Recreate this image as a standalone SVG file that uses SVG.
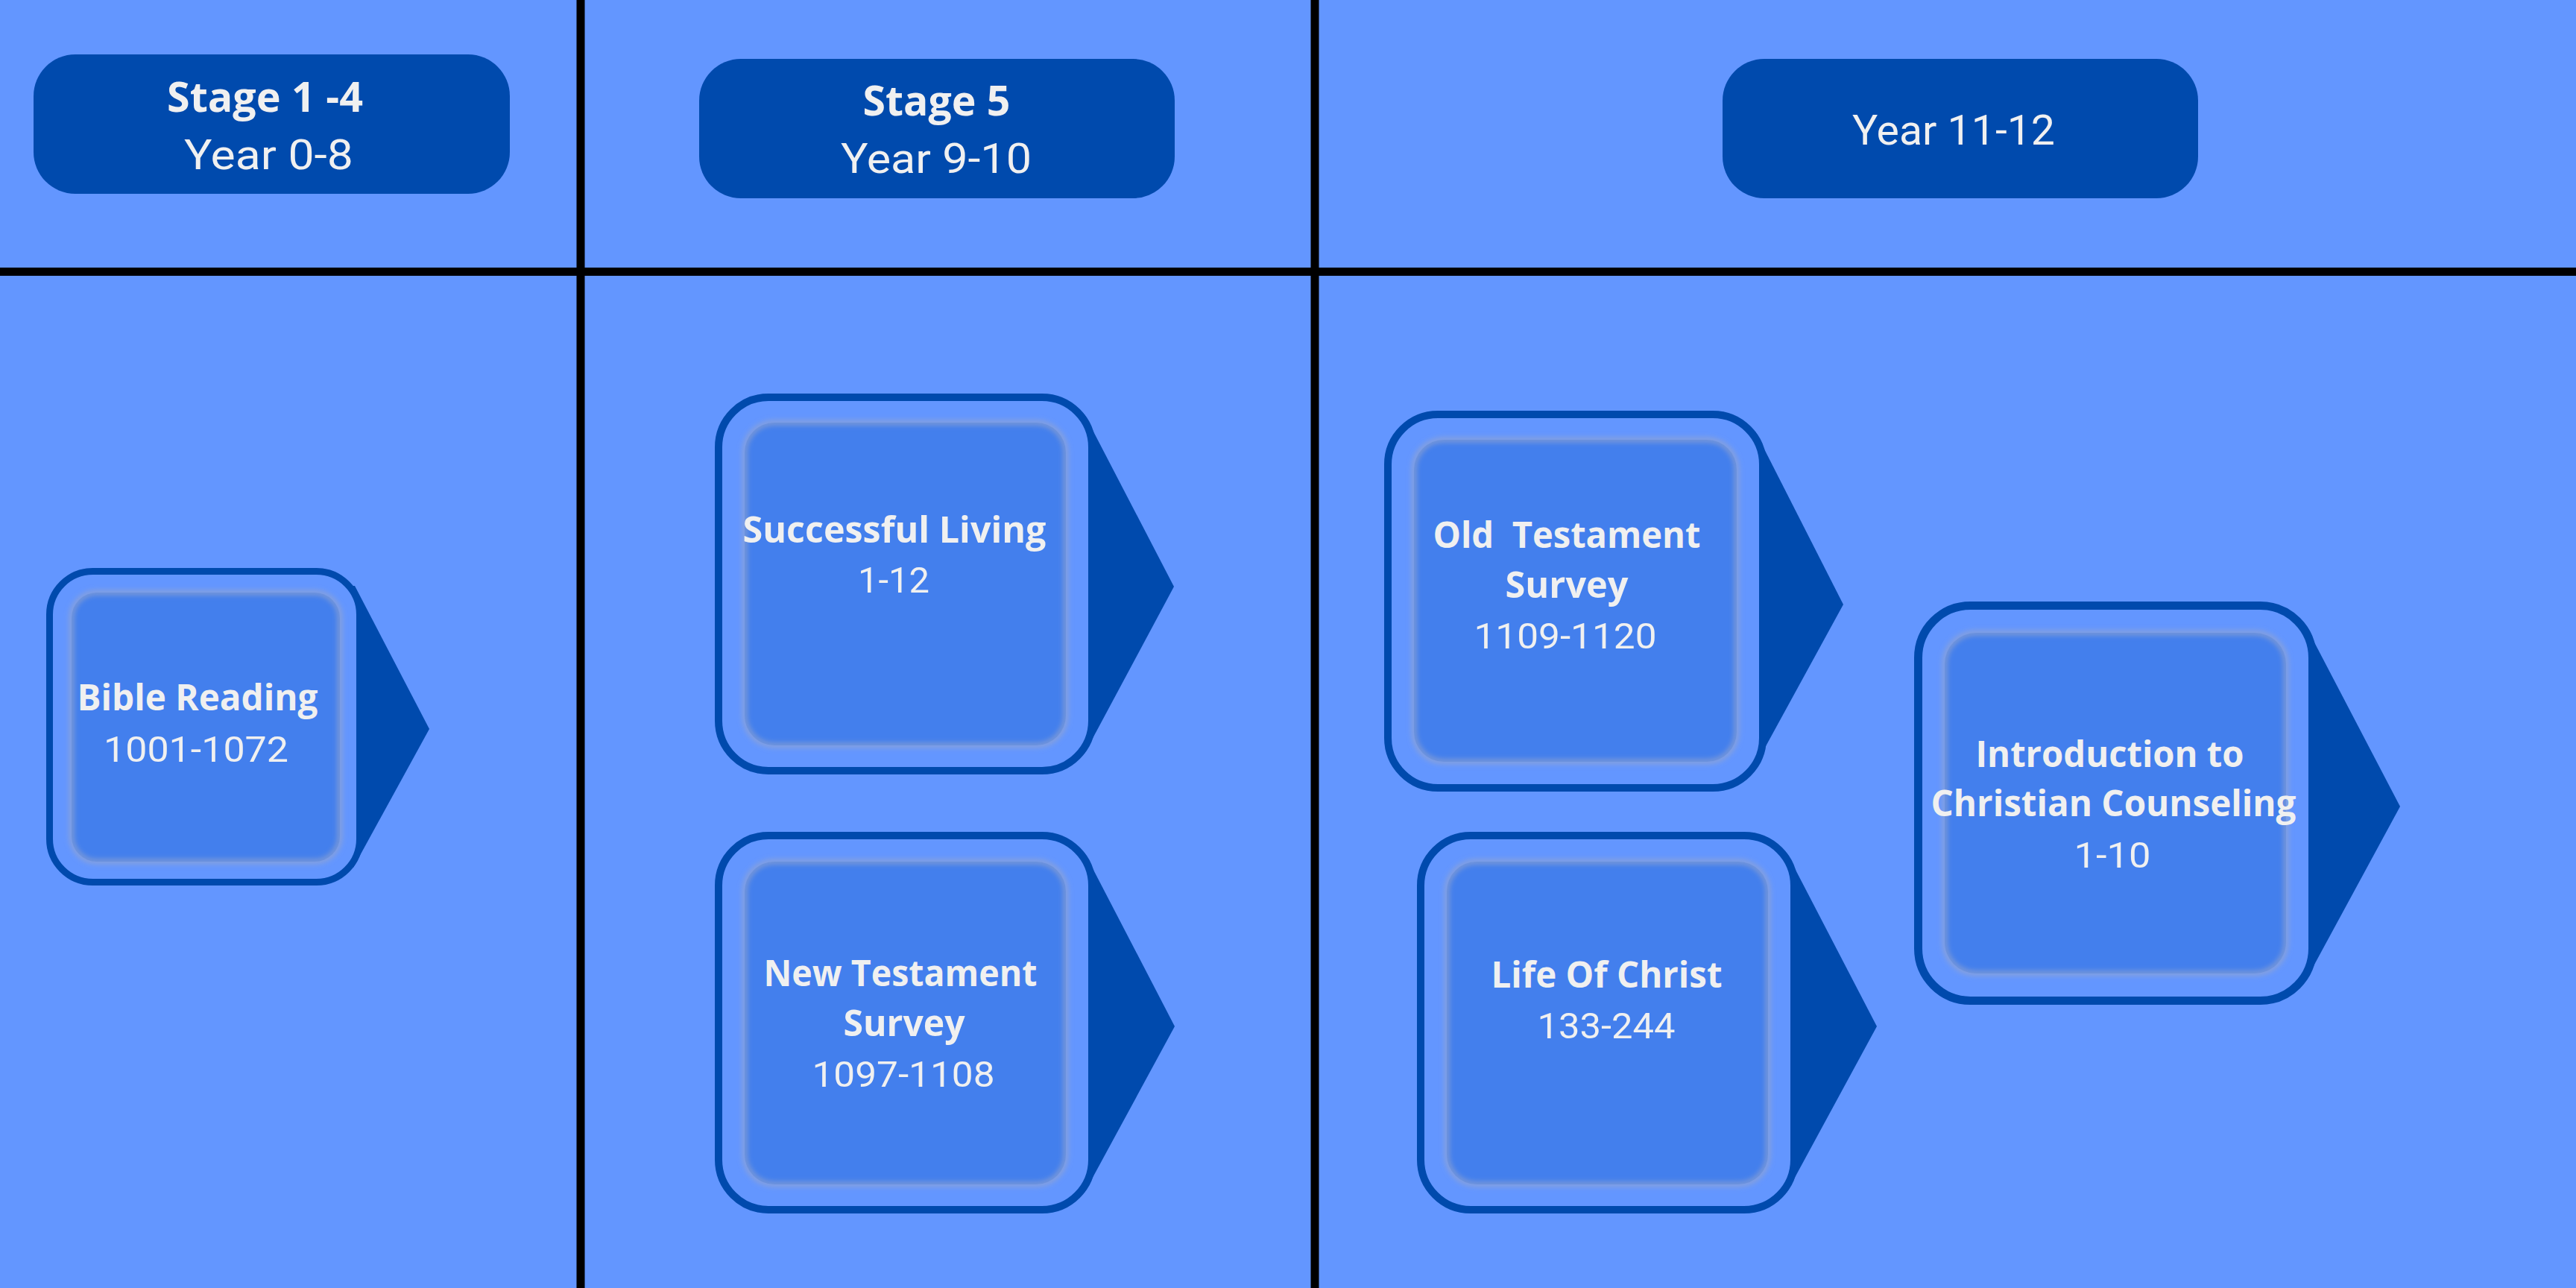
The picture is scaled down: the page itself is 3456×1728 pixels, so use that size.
<svg xmlns="http://www.w3.org/2000/svg" width="3456" height="1728" viewBox="0 0 3456 1728">
  <defs>
    <filter id="glow" x="-10%" y="-10%" width="120%" height="120%">
      <feGaussianBlur stdDeviation="3.5"/>
    </filter>
    <style>
      .pill { fill: #004AAD; }
      .arrow { fill: #004AAD; }
      .frame { fill: #6396FF; stroke: #004AAD; }
      .inner { fill: #437FED; }
      .halo { fill: none; stroke: #97A5CC; stroke-width: 6; stroke-opacity: 0.8; filter: url(#glow); }
      .sep { stroke: #000000; stroke-width: 11; }
      .b { font-family: "Open Sans", "Noto Sans", sans-serif; font-weight: 700; fill: #F0F0F0; text-anchor: middle; }
      .r { font-family: Roboto, "Noto Sans", sans-serif; font-weight: 400; fill: #F0F0F0; text-anchor: middle; }
      .hd { font-size: 56px; }
      .nb { font-size: 48px; }
      .nr { font-size: 49px; }
    </style>
  </defs>

  <rect x="0" y="0" width="3456" height="1728" fill="#6396FF"/>

  <g id="grid-lines">
    <line class="sep" x1="779" y1="0" x2="779" y2="1728"/>
    <line class="sep" x1="1764" y1="0" x2="1764" y2="1728"/>
    <line class="sep" x1="0" y1="364.5" x2="3456" y2="364.5"/>
  </g>

  <g id="header-stage-1-4">
    <rect class="pill" x="45" y="73" width="639" height="187" rx="56" ry="56"/>
    <text class="b hd" x="355.5" y="150" textLength="263" lengthAdjust="spacingAndGlyphs">Stage 1 -4</text>
    <text class="r hd" x="360.5" y="227" textLength="227" lengthAdjust="spacingAndGlyphs">Year 0-8</text>
  </g>

  <g id="header-stage-5">
    <rect class="pill" x="938" y="79" width="638" height="187" rx="56" ry="56"/>
    <text class="b hd" x="1256.5" y="155" textLength="198" lengthAdjust="spacingAndGlyphs">Stage 5</text>
    <text class="r hd" x="1256" y="232" textLength="256" lengthAdjust="spacingAndGlyphs">Year 9-10</text>
  </g>

  <g id="header-year-11-12">
    <rect class="pill" x="2311" y="79" width="638" height="187" rx="56" ry="56"/>
    <text class="r hd" x="2621" y="194" textLength="272" lengthAdjust="spacingAndGlyphs">Year 11-12</text>
  </g>

  <g id="node-bible-reading">
    <polygon class="arrow" points="430,786 476,786 576,978 474,1164 430,1164"/>
    <rect class="frame" x="66.5" y="766.5" width="416" height="417" rx="58" ry="58" stroke-width="9"/>
    <rect class="inner" x="96" y="795" width="360" height="361" rx="34" ry="34"/>
    <rect class="halo" x="96" y="795" width="360" height="361" rx="34" ry="34"/>
    <text class="b nb" x="265" y="953" textLength="323" lengthAdjust="spacingAndGlyphs">Bible Reading</text>
    <text class="r nr" x="263" y="1022" textLength="248" lengthAdjust="spacingAndGlyphs">1001-1072</text>
  </g>

  <g id="node-successful-living">
    <polygon class="arrow" points="1400,556 1455,556 1575,787 1455,1011 1400,1011"/>
    <rect class="frame" x="964" y="533" width="501" height="501" rx="67" ry="67" stroke-width="10"/>
    <rect class="inner" x="999" y="567" width="431" height="433" rx="40" ry="40"/>
    <rect class="halo" x="999" y="567" width="431" height="433" rx="40" ry="40"/>
    <text class="b nb" x="1200" y="728" textLength="407" lengthAdjust="spacingAndGlyphs">Successful Living</text>
    <text class="r nr" x="1199" y="795" textLength="96" lengthAdjust="spacingAndGlyphs">1-12</text>
  </g>

  <g id="node-new-testament-survey">
    <polygon class="arrow" points="1400,1144 1455,1144 1576,1377 1455,1600 1400,1600"/>
    <rect class="frame" x="964" y="1121" width="501" height="502" rx="67" ry="67" stroke-width="10"/>
    <rect class="inner" x="999" y="1156" width="431" height="433" rx="40" ry="40"/>
    <rect class="halo" x="999" y="1156" width="431" height="433" rx="40" ry="40"/>
    <text class="b nb" x="1208" y="1323" textLength="367" lengthAdjust="spacingAndGlyphs">New Testament</text>
    <text class="b nb" x="1213" y="1390" textLength="163" lengthAdjust="spacingAndGlyphs">Survey</text>
    <text class="r nr" x="1212" y="1458" textLength="245" lengthAdjust="spacingAndGlyphs">1097-1108</text>
  </g>

  <g id="node-old-testament-survey">
    <polygon class="arrow" points="2300,579 2355,579 2473,811 2351,1034 2300,1034"/>
    <rect class="frame" x="1862" y="556" width="503" height="501" rx="67" ry="67" stroke-width="10"/>
    <rect class="inner" x="1897" y="590" width="433" height="432" rx="40" ry="40"/>
    <rect class="halo" x="1897" y="590" width="433" height="432" rx="40" ry="40"/>
    <text class="b nb" x="2102" y="735" textLength="359" lengthAdjust="spacingAndGlyphs" style="white-space:pre">Old  Testament</text>
    <text class="b nb" x="2102" y="802" textLength="165" lengthAdjust="spacingAndGlyphs">Survey</text>
    <text class="r nr" x="2100" y="870" textLength="245" lengthAdjust="spacingAndGlyphs">1109-1120</text>
  </g>

  <g id="node-life-of-christ">
    <polygon class="arrow" points="2340,1144 2397,1144 2518,1377 2397,1600 2340,1600"/>
    <rect class="frame" x="1906" y="1121" width="501" height="502" rx="67" ry="67" stroke-width="10"/>
    <rect class="inner" x="1941" y="1156" width="431" height="433" rx="40" ry="40"/>
    <rect class="halo" x="1941" y="1156" width="431" height="433" rx="40" ry="40"/>
    <text class="b nb" x="2155.5" y="1324.5" textLength="310" lengthAdjust="spacingAndGlyphs">Life Of Christ</text>
    <text class="r nr" x="2155" y="1393" textLength="185" lengthAdjust="spacingAndGlyphs">133-244</text>
  </g>

  <g id="node-intro-christian-counseling">
    <polygon class="arrow" points="3030,837 3092,837 3220,1082 3092,1318 3030,1318"/>
    <rect class="frame" x="2573.5" y="812.5" width="529" height="530" rx="70" ry="70" stroke-width="11"/>
    <rect class="inner" x="2609" y="849" width="458" height="457" rx="42" ry="42"/>
    <rect class="halo" x="2609" y="849" width="458" height="457" rx="42" ry="42"/>
    <text class="b nb" x="2830.5" y="1028.5" textLength="360" lengthAdjust="spacingAndGlyphs">Introduction to</text>
    <text class="b nb" x="2835.5" y="1095" textLength="490" lengthAdjust="spacingAndGlyphs">Christian Counseling</text>
    <text class="r nr" x="2834" y="1164" textLength="103" lengthAdjust="spacingAndGlyphs">1-10</text>
  </g>
</svg>
